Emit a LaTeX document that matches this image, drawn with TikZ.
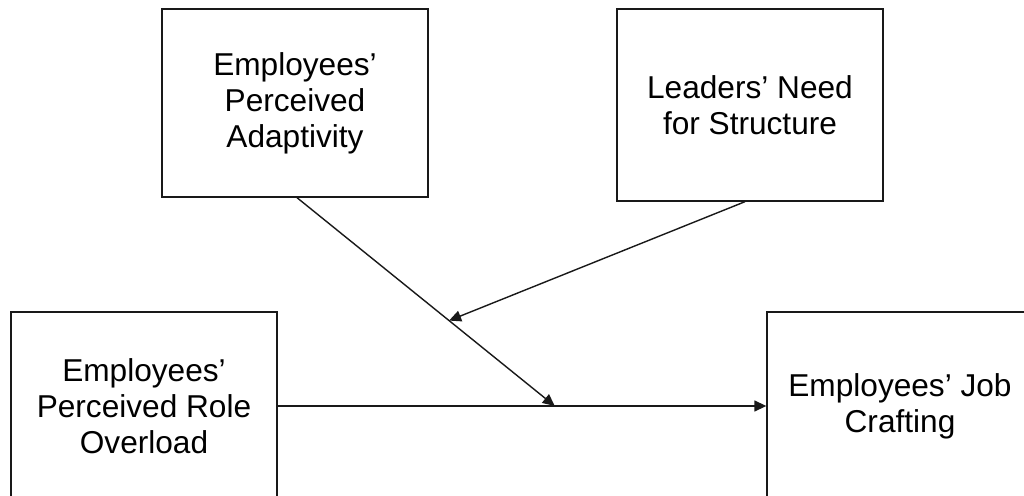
\documentclass[tikz,border=0pt]{standalone}
\usepackage{fontspec}
\setmainfont{Liberation Sans}
\usetikzlibrary{arrows.meta,calc}

\begin{document}
\begin{tikzpicture}[x=0.02cm,y=-0.02cm,
        box/.style={draw=black!90,line width=0.8pt,align=center,inner sep=0pt,
                    minimum width=5.32cm,font=\fontsize{18}{20.5}\selectfont},
        link/.style={draw=black!90,line width=0.8pt,-{Triangle[length=2.4mm,width=2.2mm]}}]
                \useasboundingbox (0,0) rectangle (1024,496);
                \clip (0,0) rectangle (1024,496);
                % boxes
                \node[box,minimum height=3.76cm] (adapt) at (295,103) {Employees'\\Perceived\\Adaptivity};
                \node[box,minimum height=3.84cm] (need) at (750,105) {Leaders' Need\\for Structure};
                \node[box,minimum height=3.76cm] (overload) at (144,406) {Employees'\\Perceived Role\\Overload};
                \node[box,minimum height=3.76cm] (craft) at (900,406) {Employees' Job\\Crafting};
                % connectors
                \draw[link] (overload.east) -- (craft.west);
                \coordinate (meet) at ($(overload.east)!0.567!(craft.west)$);
                \coordinate (a1) at ($(adapt.south)+(2,0)$);
                \coordinate (b1) at ($(need.south)+(-5,0)$);
                \draw[link] (a1) -- (meet);
                \coordinate (mod) at ($(a1)!0.59!(meet)$);
                \draw[link] (b1) -- (mod);
            \end{tikzpicture}
\end{document}
